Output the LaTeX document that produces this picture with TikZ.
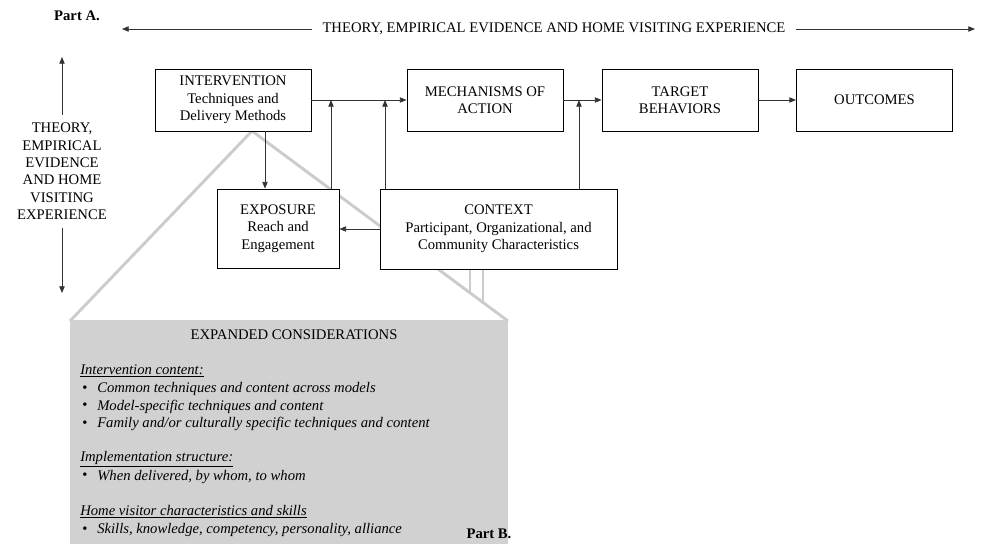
\documentclass[tikz,border=0pt]{standalone}
\usepackage{fontspec}
\setmainfont{Liberation Serif}
\usetikzlibrary{arrows.meta,positioning}
\tikzset{
  arr/.style={-{Triangle[length=5pt,width=4pt]}, line width=0.6pt, draw=black!80},
  box/.style={draw=black, line width=0.7pt, fill=white, align=center, inner sep=2pt,
    font=\fontsize{11pt}{13pt}\selectfont},
  bigbox/.style={box, minimum width=117pt, minimum height=46.5pt},
  zoomline/.style={draw=black!20, line width=2.2pt},
  txt/.style={font=\fontsize{11pt}{13pt}\selectfont, inner sep=0pt},
  itx/.style={txt, anchor=west, font=\fontsize{11pt}{13pt}\selectfont\itshape},
}
\begin{document}
\begin{tikzpicture}[x=0.75pt, y=-0.75pt]
\useasboundingbox (0,0) rectangle (982,544);

% zoom lines and expanded box (behind)
\coordinate (apex) at (252,131);
\coordinate (gl) at (70,321);
\coordinate (gr) at (508,321);
\draw[zoomline] (gl) -- (apex) -- (gr);
\coordinate (v1a) at (470,268);
\coordinate (v1b) at (470,293);
\coordinate (v2a) at (483,268);
\coordinate (v2b) at (483,302.5);
\draw[zoomline] (v1a) -- (v1b);
\draw[zoomline] (v2a) -- (v2b);
\node[fill=black!18, inner sep=0pt, minimum width=328.5pt, minimum height=168pt, anchor=north west] (exp) at (70,320) {};

% main boxes
\node[bigbox] (int) at (233,100) {INTERVENTION\\Techniques and\\Delivery Methods};
\node[bigbox] (mech) at (485,100) {MECHANISMS OF\\ACTION};
\node[bigbox] (tgt) at (680,100) {TARGET\\BEHAVIORS};
\node[bigbox] (out) at (874.5,100) {OUTCOMES};
\node[box, minimum width=91.5pt, minimum height=59.25pt] (expo) at (278,228.5) {EXPOSURE\\Reach and\\Engagement};
\node[box, minimum width=177.75pt, minimum height=60pt] (ctx) at (498.5,229) {CONTEXT\\Participant, Organizational, and\\Community Characteristics};

% header texts
\node[txt, font=\fontsize{11pt}{13pt}\selectfont\bfseries] (parta) at (77,16) {Part A.};
\node[txt, inner xsep=7.5pt] (toptxt) at (554,29) {THEORY, EMPIRICAL EVIDENCE AND HOME VISITING EXPERIENCE};
\coordinate (tl) at (122,29);
\coordinate (tr) at (975,29);
\draw[arr] (toptxt.west) -- (tl);
\draw[arr] (toptxt.east) -- (tr);

\node[txt, align=center, inner ysep=6pt] (lefttxt) at (62,171.5) {THEORY,\\EMPIRICAL\\EVIDENCE\\AND HOME\\VISITING\\EXPERIENCE};
\coordinate (lt) at (62,57);
\coordinate (lb) at (62,293);
\draw[arr] (lefttxt.north) -- (lt);
\draw[arr] (lefttxt.south) -- (lb);

% connectors
\coordinate (c265) at (265,0);
\coordinate (c331) at (331,0);
\coordinate (c385) at (385,0);
\coordinate (c579) at (579,0);
\draw[arr] (int.east) -- (mech.west);
\draw[arr] (mech.east) -- (tgt.west);
\draw[arr] (tgt.east) -- (out.west);
\draw[arr] (int.south -| c265) -- (expo.north -| c265);
\draw[arr] (expo.north -| c331) -- (c331 |- int.east);
\draw[arr] (ctx.north -| c385) -- (c385 |- int.east);
\draw[arr] (ctx.north -| c579) -- (c579 |- mech.east);
\draw[arr] (ctx.west) -- (ctx.west -| expo.east);

% expanded considerations
\node[txt] (ecT) at (294,335) {EXPANDED CONSIDERATIONS};
\node[itx] (h1) at (80,371) {\underline{Intervention content:}};
\node[itx] (b1) at (97,389) {Common techniques and content across models};
\node[itx] (b2) at (97,406.5) {Model-specific techniques and content};
\node[itx] (b3) at (97,424) {Family and/or culturally specific techniques and content};
\node[itx] (h2) at (80,459) {\underline{Implementation structure:}};
\node[itx] (b4) at (97,476.5) {When delivered, by whom, to whom};
\node[itx] (h3) at (80,512) {\underline{Home visitor characteristics and skills}};
\node[itx] (b5) at (97,530) {Skills, knowledge, competency, personality, alliance};
\foreach \n in {b1,b2,b3,b4,b5}{
  \node[txt, anchor=center] at ([xshift=-9pt]\n.west) {\textbullet};
}
\node[txt, font=\fontsize{11pt}{13pt}\selectfont\bfseries] (partb) at (489,534) {Part B.};
\end{tikzpicture}
\end{document}
